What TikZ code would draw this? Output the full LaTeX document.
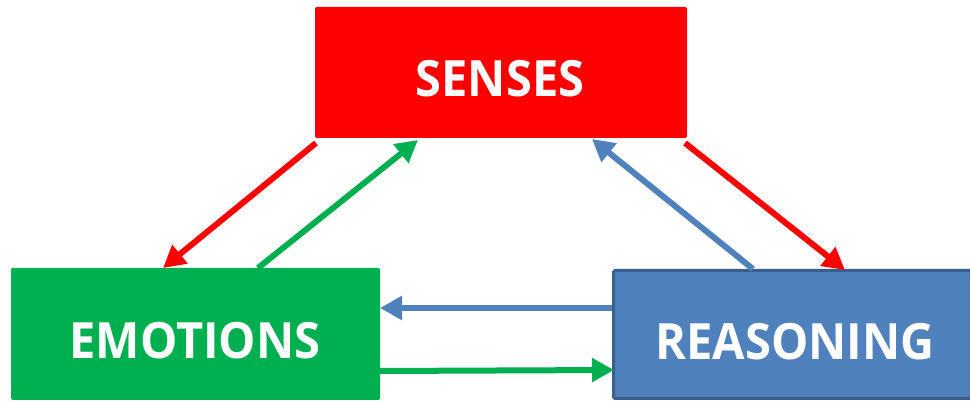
\documentclass[tikz,border=0pt]{standalone}
\usepackage{fontspec}
\setmainfont{Open Sans}[FakeStretch=0.94]
\usetikzlibrary{arrows.meta}
\definecolor{sred}{HTML}{FF0000}
\definecolor{egreen}{HTML}{00B050}
\definecolor{rblue}{HTML}{4F81BD}
\definecolor{rblueb}{HTML}{3A5F8F}
\tikzset{
  box/.style={rounded corners=1.5pt, text=white, font=\fontsize{50}{56}\selectfont\bfseries, inner sep=0pt},
  conn/.style={line width=6pt, -{Triangle[length=22pt,width=23pt]}}
}
\begin{document}
\begin{tikzpicture}[x=1pt,y=-1pt]
\useasboundingbox (0,0) rectangle (970,403);
\fill[sred,rounded corners=1.5pt] (315,7) rectangle (687,138);
\node[box] (senses) at (500,79) {SENSES};
\fill[egreen,rounded corners=1.5pt] (11,268) rectangle (380,400);
\node[box] (emotions) at (195,341) {EMOTIONS};
\filldraw[fill=rblue,draw=rblueb,line width=3pt,rounded corners=1.5pt] (613.5,270.5) rectangle (971,398.5);
\node[box] (reasoning) at (795,342) {REASONING};
\coordinate (s1) at (316,143);
\coordinate (e1) at (163,268);
\coordinate (e2) at (258,268);
\coordinate (s2) at (418,140);
\coordinate (r1) at (753,269);
\coordinate (s3) at (592,139);
\coordinate (s4) at (685,143);
\coordinate (r2) at (845,270);
\coordinate (r3) at (612,308);
\coordinate (e3) at (380,308);
\coordinate (e4) at (380,371);
\coordinate (r4) at (614,370);
\draw[conn,sred] (s1) -- (e1);
\draw[conn,egreen] (e2) -- (s2);
\draw[conn,rblue] (r1) -- (s3);
\draw[conn,sred] (s4) -- (r2);
\draw[conn,rblue] (r3) -- (e3);
\draw[conn,egreen] (e4) -- (r4);
\end{tikzpicture}
\end{document}
